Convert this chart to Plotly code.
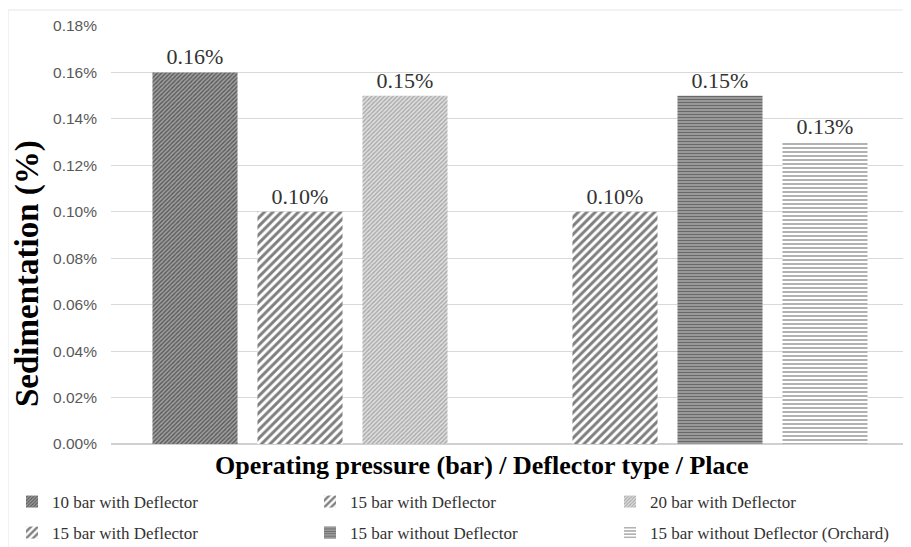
import plotly.graph_objects as go

series_names = [
    "10 bar with Deflector",
    "15 bar with Deflector",
    "20 bar with Deflector",
    "15 bar with Deflector",
    "15 bar without Deflector",
    "15 bar without Deflector (Orchard)",
]
positions = [0, 1, 2, 4, 5, 6]
values = [0.0016, 0.0010, 0.0015, 0.0010, 0.0015, 0.0013]
y_ticks = [0, 0.0002, 0.0004, 0.0006, 0.0008, 0.0010, 0.0012, 0.0014, 0.0016, 0.0018]
y_title = "Sedimentation (%)"
x_title = "Operating pressure (bar) / Deflector type / Place"

patterns = [
    dict(shape="/", fgcolor="#111111", bgcolor="#a0a0a0", size=3, solidity=0.45),
    dict(shape="/", fgcolor="#000000", bgcolor="#ffffff", size=6, solidity=0.5),
    dict(shape="/", fgcolor="#707070", bgcolor="#e0e0e0", size=3, solidity=0.45),
    dict(shape="/", fgcolor="#000000", bgcolor="#ffffff", size=6, solidity=0.5),
    dict(shape="-", fgcolor="#2a2a2a", bgcolor="#a8a8a8", size=3, solidity=0.5),
    dict(shape="-", fgcolor="#222222", bgcolor="#ffffff", size=4, solidity=0.35),
]

# The page body adds an 8px margin, so the figure is sized to fit the window.
OFF = 8
W, H = 911 - OFF, 547 - OFF
L, R, T, B = 111 - OFF, 6, 26 - OFF, 547 - 444
PW, PH = W - L - R, H - T - B


def px_x(page_x):
    return (page_x - OFF - L) / PW


def px_y(page_y):
    return (H - B - (page_y - OFF)) / PH


legend_x_fig = [4, 302, 602, 4, 302, 602]
legend_y_fig = [494, 494, 494, 525, 525, 525]

fig = go.Figure()
legend_layouts = {}
for i, (name, xp, v) in enumerate(zip(series_names, positions, values)):
    lname = "legend" if i == 0 else f"legend{i + 1}"
    fig.add_trace(go.Bar(
        x=[xp], y=[v], name=name, width=0.81,
        marker=dict(color=patterns[i]["bgcolor"], pattern=patterns[i], line=dict(width=0)),
        texttemplate="%{y:.2%}", textposition="outside", cliponaxis=False,
        textfont=dict(family="Liberation Serif", size=22, color="#333333"),
        legend=lname,
    ))
    legend_layouts[lname] = dict(
        orientation="h", xref="container", yref="container",
        xanchor="left", yanchor="middle",
        x=legend_x_fig[i] / W, y=1 - legend_y_fig[i] / H,
        font=dict(family="Liberation Serif", size=17, color="#333333"),
        itemwidth=30, bgcolor="rgba(0,0,0,0)",
    )

fig.update_layout(
    width=W, height=H,
    margin=dict(l=L, r=R, t=T, b=B, autoexpand=False),
    paper_bgcolor="white", plot_bgcolor="white",
    barmode="overlay",
    showlegend=True,
    xaxis=dict(
        range=[-0.8, 6.762], showticklabels=False, showgrid=False, zeroline=False,
        showline=False, ticks="", automargin=False,
    ),
    yaxis=dict(
        range=[0, 0.0018], tickvals=y_ticks, tickformat=".2%",
        tickfont=dict(family="Liberation Sans", size=15.5, color="#595959"),
        gridcolor="#d9d9d9", gridwidth=1, zeroline=True, zerolinecolor="#d0d0d0",
        ticks="", ticklabelstandoff=13, automargin=False,
    ),
    **legend_layouts,
)

fig.add_annotation(
    text=f"<b>{y_title}</b>", textangle=-90, showarrow=False,
    xref="paper", yref="paper", x=px_x(27), y=px_y(274),
    xanchor="center", yanchor="middle",
    font=dict(family="Liberation Serif", size=33, color="#000000"),
)
fig.add_annotation(
    text=f"<b>{x_title}</b>", showarrow=False,
    xref="paper", yref="paper", x=px_x(482), y=px_y(465),
    xanchor="center", yanchor="middle",
    font=dict(family="Liberation Serif", size=26, color="#000000"),
)

fig.add_shape(type="rect", xref="paper", yref="paper",
              x0=px_x(8), x1=1.05, y0=-0.35, y1=px_y(10),
              line=dict(color="#e6e6e6", width=1))

fig.write_html("out.html")
